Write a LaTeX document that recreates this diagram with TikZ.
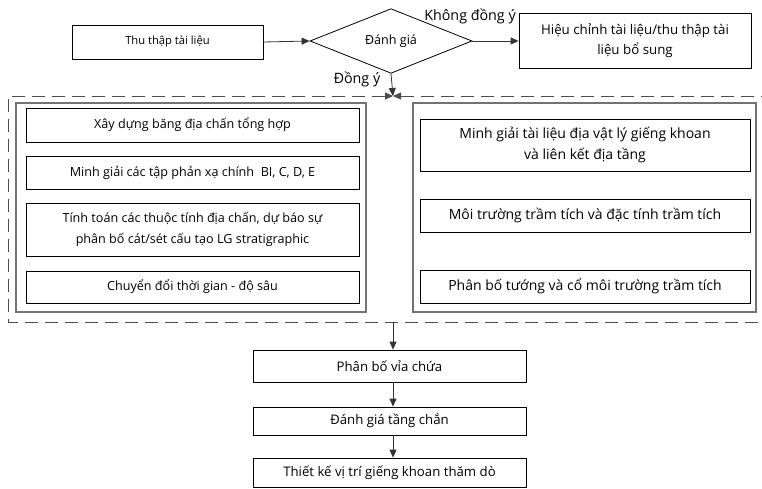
\documentclass[tikz,border=0pt]{standalone}
\usepackage{fontspec}
\setmainfont{Open Sans}
\usetikzlibrary{shapes.geometric,arrows.meta}
\begin{document}
\begin{tikzpicture}[x=1pt,y=-1pt,
  box/.style={draw=black,line width=0.8pt,inner sep=2pt,align=center,font=\fontsize{12.6}{20.5}\selectfont},
  rbox/.style={box,font=\fontsize{14}{20.5}\selectfont},
  bbox/.style={box,font=\fontsize{13.2}{20.5}\selectfont},
  grp/.style={draw=black!55,line width=1.2pt},
  arr/.style={draw=black!80,line width=0.8pt,-{Triangle[length=8pt,width=7pt]}},
  dsh/.style={draw=black!70,line width=0.9pt,dash pattern=on 13pt off 7pt},
  lbl/.style={font=\fontsize{14.3}{16}\selectfont,inner sep=0pt}]
\useasboundingbox (0,0) rectangle (762,489);
% top row
\node[box,minimum width=191pt,minimum height=34pt,font=\fontsize{11.2}{13}\selectfont] (thu) at (167.5,42) {Thu thập tài liệu};
\node[draw=black,line width=0.8pt,diamond,minimum width=162pt,minimum height=58pt,inner sep=0pt,font=\fontsize{12.6}{14}\selectfont] (dg) at (391,41) {Đánh giá};
\node[box,minimum width=232pt,minimum height=55pt,font=\fontsize{13.3}{20.5}\selectfont] (hc) at (635,40.5) {Hiệu chỉnh tài liệu/thu thập tài\\liệu bổ sung};
\draw[arr] (thu.east) -- (dg.west);
\draw[arr] (dg.east) -- (hc.west|-dg.east);
\node[lbl] (kdy) at (470,16) {Không đồng ý};
\node[lbl] (dy) at (357,79) {Đồng ý};
\coordinate (j) at (393,96);
\draw[arr] (dg.south) -- (j);
% dashed frame
\draw[dsh,{Triangle[length=8pt,width=7pt]}-] (j) -- (8,96) -- (8,322) -- (762,322);
\draw[dsh,{Triangle[length=8pt,width=7pt]}-] (j) -- (762,96);
% left group
\node[grp,minimum width=350pt,minimum height=209pt] (lg) at (191,207.5) {};
\node[box,minimum width=333pt,minimum height=34pt] (l1) at (192.5,125) {Xây dựng băng địa chấn tổng hợp};
\node[box,minimum width=333pt,minimum height=33pt] (l2) at (192.5,172.5) {Minh giải các tập phản xạ chính~ BI, C, D, E};
\node[box,minimum width=333pt,minimum height=53pt] (l3) at (192.5,229.5) {Tính toán các thuộc tính địa chấn, dự báo sự\\phân bố cát/sét cấu tạo LG stratigraphic};
\node[box,minimum width=333pt,minimum height=32pt] (l4) at (192.5,287) {Chuyển đổi thời gian - độ sâu};
% right group
\node[grp,minimum width=343pt,minimum height=209pt] (rg) at (584.5,207.5) {};
\node[rbox,minimum width=330pt,minimum height=52pt] (r1) at (585,145) {Minh giải tài liệu địa vật lý giếng khoan\\và liên kết địa tầng};
\node[rbox,minimum width=330pt,minimum height=33pt] (r2) at (585,215.5) {Môi trường trầm tích và đặc tính trầm tích};
\node[rbox,minimum width=330pt,minimum height=33pt] (r3) at (585,286.5) {Phân bố tướng và cổ môi trường trầm tích};
% bottom chain
\coordinate (b) at (393,322);
\node[bbox,minimum width=273pt,minimum height=32pt] (v1) at (389.5,366) {Phân bố vỉa chứa};
\node[bbox,minimum width=273pt,minimum height=28pt] (v2) at (389.5,421) {Đánh giá tầng chắn};
\node[bbox,minimum width=273pt,minimum height=29pt] (v3) at (389.5,472.5) {Thiết kế vị trí giếng khoan thăm dò};
\draw[arr] (b) -- (b|-v1.north);
\draw[arr] (b|-v1.south) -- (b|-v2.north);
\draw[arr] (b|-v2.south) -- (b|-v3.north);
\end{tikzpicture}
\end{document}
